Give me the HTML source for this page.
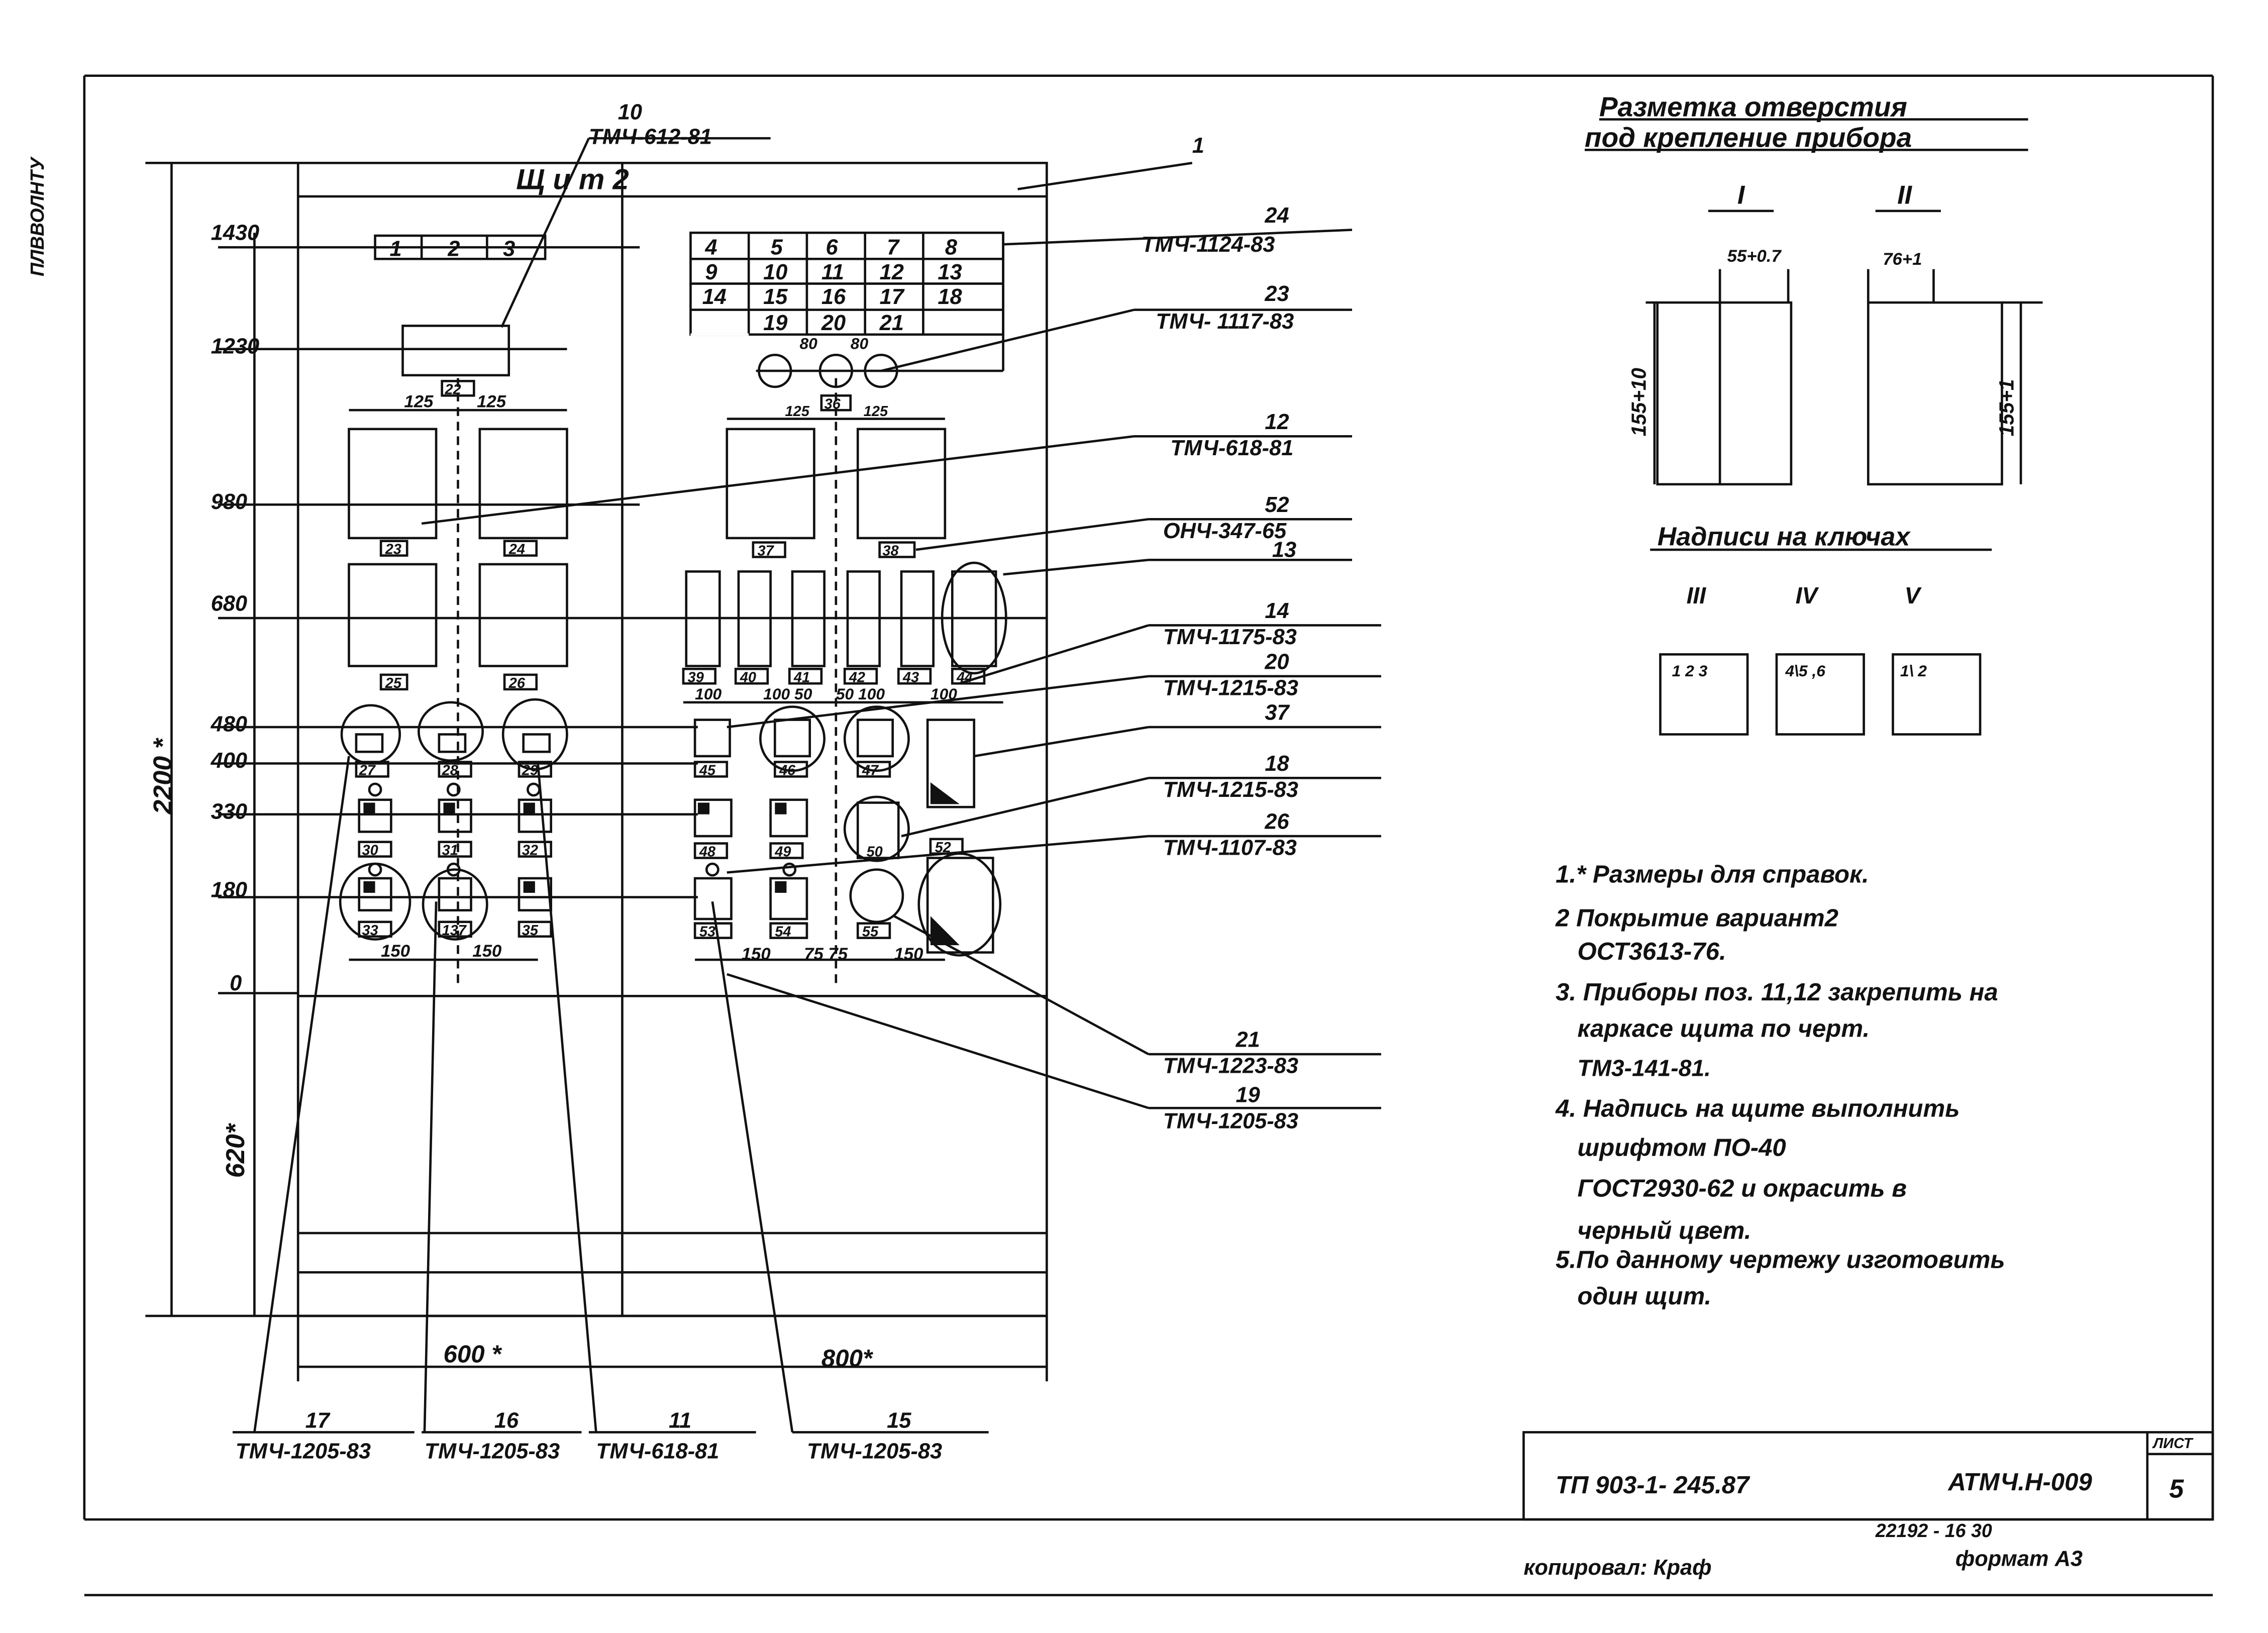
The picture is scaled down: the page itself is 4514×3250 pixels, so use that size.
<!DOCTYPE html>
<html><head><meta charset="utf-8"><style>
html,body{margin:0;padding:0;background:#fff}
svg{display:block}
text{font-family:"Liberation Sans",sans-serif;font-style:italic;font-weight:bold;fill:#111}
</style></head><body>
<svg width="4514" height="3250" viewBox="0 0 1560 1123" xmlns="http://www.w3.org/2000/svg">
<g stroke="#111" stroke-width="1.6" fill="none">
<!-- frame -->
<line x1="58" y1="52" x2="1522" y2="52"/>
<line x1="58" y1="52" x2="58" y2="1045"/>
<line x1="1522" y1="52" x2="1522" y2="1045"/>
<line x1="58" y1="1045" x2="1522" y2="1045"/>
<line x1="58" y1="1097" x2="1522" y2="1097"/>
<!-- title block -->
<rect x="1048" y="985" width="474" height="60"/>
<line x1="1477" y1="985" x2="1477" y2="1045"/>
<line x1="1477" y1="1000" x2="1522" y2="1000"/>
<!-- panel -->
<rect x="205" y="112" width="515" height="793"/>
<line x1="428" y1="112" x2="428" y2="905"/>
<line x1="205" y1="135" x2="720" y2="135"/>
<line x1="205" y1="685" x2="720" y2="685"/>
<line x1="205" y1="848" x2="720" y2="848"/>
<line x1="205" y1="875" x2="720" y2="875"/>
<line x1="100" y1="112" x2="205" y2="112"/>
<line x1="100" y1="905" x2="720" y2="905"/>
<line x1="118" y1="112" x2="118" y2="905"/>
<line x1="175" y1="160" x2="175" y2="905"/>
<!-- level lines -->
<line x1="150" y1="170" x2="440" y2="170"/>
<line x1="150" y1="240" x2="390" y2="240"/>
<line x1="150" y1="347" x2="440" y2="347"/>
<line x1="150" y1="425" x2="720" y2="425"/>
<line x1="150" y1="500" x2="480" y2="500"/>
<line x1="150" y1="525" x2="480" y2="525"/>
<line x1="150" y1="560" x2="480" y2="560"/>
<line x1="150" y1="617" x2="480" y2="617"/>
<line x1="150" y1="683" x2="205" y2="683"/>
<!-- bottom dims -->
<line x1="205" y1="905" x2="205" y2="950"/>
<line x1="720" y1="905" x2="720" y2="950"/>
<line x1="205" y1="940" x2="720" y2="940"/>
<!-- left components -->
<rect x="258" y="162" width="117" height="16"/>
<line x1="290" y1="162" x2="290" y2="178"/><line x1="335" y1="162" x2="335" y2="178"/>
<rect x="277" y="224" width="73" height="34"/>
<rect x="240" y="295" width="60" height="75"/><rect x="330" y="295" width="60" height="75"/>
<rect x="240" y="388" width="60" height="70"/><rect x="330" y="388" width="60" height="70"/>
<line x1="240" y1="282" x2="390" y2="282"/>
<line x1="315" y1="260" x2="315" y2="680" stroke-dasharray="6 4"/>
<rect x="304" y="262" width="22" height="10"/>
<rect x="262" y="372" width="18" height="10"/><rect x="347" y="372" width="22" height="10"/>
<rect x="262" y="464" width="18" height="10"/><rect x="347" y="464" width="22" height="10"/>
<ellipse cx="255" cy="505" rx="20" ry="20"/><ellipse cx="310" cy="503" rx="22" ry="20"/><ellipse cx="368" cy="505" rx="22" ry="24"/>
<rect x="245" y="505" width="18" height="12"/><rect x="302" y="505" width="18" height="12"/><rect x="360" y="505" width="18" height="12"/>
<rect x="245" y="524" width="22" height="10"/><rect x="302" y="524" width="22" height="10"/><rect x="357" y="524" width="22" height="10"/>
<circle cx="258" cy="543" r="4"/><circle cx="312" cy="543" r="4"/><circle cx="367" cy="543" r="4"/>
<rect x="247" y="550" width="22" height="22"/><rect x="302" y="550" width="22" height="22"/><rect x="357" y="550" width="22" height="22"/>
<rect x="247" y="579" width="22" height="10"/><rect x="302" y="579" width="22" height="10"/><rect x="357" y="579" width="22" height="10"/>
<circle cx="258" cy="598" r="4"/><circle cx="312" cy="598" r="4"/>
<ellipse cx="258" cy="620" rx="24" ry="26"/><ellipse cx="313" cy="622" rx="22" ry="24"/>
<rect x="247" y="604" width="22" height="22"/><rect x="302" y="604" width="22" height="22"/><rect x="357" y="604" width="22" height="22"/>
<rect x="247" y="634" width="22" height="10"/><rect x="302" y="634" width="22" height="10"/><rect x="357" y="634" width="22" height="10"/>
<line x1="240" y1="660" x2="370" y2="660"/>
<!-- right components -->
<rect x="475" y="160" width="215" height="70"/>
<line x1="475" y1="178" x2="690" y2="178"/><line x1="475" y1="195" x2="690" y2="195"/><line x1="475" y1="213" x2="690" y2="213"/>
<line x1="515" y1="160" x2="515" y2="230"/><line x1="555" y1="160" x2="555" y2="230"/><line x1="595" y1="160" x2="595" y2="230"/><line x1="635" y1="160" x2="635" y2="230"/>
<line x1="475" y1="230" x2="515" y2="230" stroke="#fff"/>
<line x1="690" y1="160" x2="690" y2="255"/>
<circle cx="533" cy="255" r="11"/><circle cx="575" cy="255" r="11"/><circle cx="606" cy="255" r="11"/>
<line x1="520" y1="255" x2="690" y2="255"/>
<rect x="565" y="272" width="20" height="10"/>
<line x1="500" y1="288" x2="650" y2="288"/>
<rect x="500" y="295" width="60" height="75"/><rect x="590" y="295" width="60" height="75"/>
<line x1="575" y1="260" x2="575" y2="680" stroke-dasharray="6 4"/>
<rect x="518" y="373" width="22" height="10"/><rect x="605" y="373" width="24" height="10"/>
<rect x="472" y="393" width="23" height="65"/><rect x="508" y="393" width="22" height="65"/><rect x="545" y="393" width="22" height="65"/><rect x="583" y="393" width="22" height="65"/><rect x="620" y="393" width="22" height="65"/>
<ellipse cx="670" cy="425" rx="22" ry="38"/><rect x="655" y="393" width="30" height="65"/>
<rect x="470" y="460" width="22" height="10"/><rect x="506" y="460" width="22" height="10"/><rect x="543" y="460" width="22" height="10"/><rect x="581" y="460" width="22" height="10"/><rect x="618" y="460" width="22" height="10"/><rect x="655" y="460" width="22" height="10"/>
<line x1="470" y1="483" x2="690" y2="483"/>
<rect x="478" y="495" width="24" height="25"/><ellipse cx="545" cy="508" rx="22" ry="22"/><ellipse cx="603" cy="508" rx="22" ry="22"/>
<rect x="533" y="495" width="24" height="25"/><rect x="590" y="495" width="24" height="25"/>
<rect x="638" y="495" width="32" height="60"/>
<rect x="478" y="524" width="22" height="10"/><rect x="533" y="524" width="22" height="10"/><rect x="590" y="524" width="22" height="10"/>
<ellipse cx="603" cy="570" rx="22" ry="22"/><rect x="590" y="552" width="28" height="38"/>
<rect x="478" y="550" width="25" height="25"/><rect x="530" y="550" width="25" height="25"/>
<rect x="478" y="580" width="22" height="10"/><rect x="530" y="580" width="22" height="10"/>
<rect x="640" y="577" width="22" height="10"/>
<circle cx="490" cy="598" r="4"/><circle cx="543" cy="598" r="4"/>
<rect x="478" y="604" width="25" height="28"/><rect x="530" y="604" width="25" height="28"/>
<circle cx="603" cy="616" r="18"/>
<ellipse cx="660" cy="622" rx="28" ry="35"/><rect x="638" y="590" width="45" height="65"/>
<rect x="478" y="635" width="25" height="10"/><rect x="530" y="635" width="25" height="10"/><rect x="590" y="635" width="22" height="10"/>
<line x1="478" y1="660" x2="650" y2="660"/>
<!-- leaders right -->
<line x1="700" y1="130" x2="820" y2="112"/>
<line x1="690" y1="168" x2="930" y2="158"/>
<line x1="606" y1="255" x2="780" y2="213"/><line x1="780" y1="213" x2="930" y2="213"/>
<line x1="290" y1="360" x2="780" y2="300"/><line x1="780" y1="300" x2="930" y2="300"/>
<line x1="630" y1="378" x2="790" y2="357"/><line x1="790" y1="357" x2="930" y2="357"/>
<line x1="690" y1="395" x2="790" y2="385"/><line x1="790" y1="385" x2="930" y2="385"/>
<line x1="660" y1="470" x2="790" y2="430"/><line x1="790" y1="430" x2="950" y2="430"/>
<line x1="500" y1="500" x2="790" y2="465"/><line x1="790" y1="465" x2="950" y2="465"/>
<line x1="670" y1="520" x2="790" y2="500"/><line x1="790" y1="500" x2="950" y2="500"/>
<line x1="620" y1="575" x2="790" y2="535"/><line x1="790" y1="535" x2="950" y2="535"/>
<line x1="500" y1="600" x2="790" y2="575"/><line x1="790" y1="575" x2="950" y2="575"/>
<line x1="615" y1="630" x2="790" y2="725"/><line x1="790" y1="725" x2="950" y2="725"/>
<line x1="500" y1="670" x2="790" y2="762"/><line x1="790" y1="762" x2="950" y2="762"/>
<line x1="405" y1="95" x2="530" y2="95"/><line x1="405" y1="95" x2="345" y2="225"/>
<!-- leaders bottom -->
<line x1="240" y1="520" x2="175" y2="985"/><line x1="160" y1="985" x2="285" y2="985"/>
<line x1="300" y1="620" x2="292" y2="985"/><line x1="290" y1="985" x2="400" y2="985"/>
<line x1="370" y1="525" x2="410" y2="985"/><line x1="405" y1="985" x2="520" y2="985"/>
<line x1="490" y1="620" x2="545" y2="985"/><line x1="545" y1="985" x2="680" y2="985"/>
<!-- right side -->
<line x1="1100" y1="82" x2="1395" y2="82"/><line x1="1090" y1="103" x2="1395" y2="103"/>
<rect x="1140" y="208" width="92" height="125"/><rect x="1285" y="208" width="92" height="125"/>
<line x1="1183" y1="185" x2="1183" y2="333"/><line x1="1230" y1="185" x2="1230" y2="208"/>
<line x1="1285" y1="185" x2="1285" y2="208"/><line x1="1330" y1="185" x2="1330" y2="208"/>
<line x1="1132" y1="208" x2="1140" y2="208"/><line x1="1377" y1="208" x2="1405" y2="208"/>
<line x1="1138" y1="208" x2="1138" y2="333"/><line x1="1390" y1="208" x2="1390" y2="333"/>
<line x1="1135" y1="378" x2="1370" y2="378"/>
<rect x="1142" y="450" width="60" height="55"/><rect x="1222" y="450" width="60" height="55"/><rect x="1302" y="450" width="60" height="55"/>
<line x1="1175" y1="145" x2="1220" y2="145"/><line x1="1290" y1="145" x2="1335" y2="145"/>
</g>
<g fill="#111">
<rect x="305" y="552" width="8" height="8"/><rect x="250" y="552" width="8" height="8"/><rect x="360" y="552" width="8" height="8"/>
<rect x="250" y="606" width="8" height="8"/><rect x="360" y="606" width="8" height="8"/>
<rect x="480" y="552" width="8" height="8"/><rect x="533" y="552" width="8" height="8"/><rect x="533" y="606" width="8" height="8"/>
<polygon points="640,650 660,650 640,630"/><polygon points="640,553 660,553 640,538"/>
</g>
<g font-size="15">
<text x="30" y="190" transform="rotate(-90 30 190)" font-size="13">ПЛВВОЛНТУ</text>
<text x="355" y="130" font-size="20">Щ   и   т 2</text>
<text x="425" y="82">10</text><text x="405" y="99">ТМЧ-612-81</text>
<text x="820" y="105">1</text>
<text x="145" y="165">1430</text><text x="145" y="243">1230</text><text x="145" y="350">980</text><text x="145" y="420">680</text>
<text x="145" y="503">480</text><text x="145" y="528">400</text><text x="145" y="563">330</text><text x="145" y="617">180</text><text x="158" y="681">0</text>
<text x="118" y="560" transform="rotate(-90 118 560)" font-size="18">2200 *</text>
<text x="168" y="810" transform="rotate(-90 168 810)" font-size="18">620*</text>
<text x="305" y="937" font-size="17">600 *</text><text x="565" y="940" font-size="17">800*</text>
<text x="268" y="176">1</text><text x="308" y="176">2</text><text x="346" y="176">3</text>
<text x="278" y="280" font-size="12">125</text><text x="328" y="280" font-size="12">125</text>
<text x="306" y="271" font-size="10">22</text>
<text x="265" y="381" font-size="10">23</text><text x="350" y="381" font-size="10">24</text>
<text x="265" y="473" font-size="10">25</text><text x="350" y="473" font-size="10">26</text>
<text x="247" y="533" font-size="10">27</text><text x="304" y="533" font-size="10">28</text><text x="359" y="533" font-size="10">29</text>
<text x="249" y="588" font-size="10">30</text><text x="304" y="588" font-size="10">31</text><text x="359" y="588" font-size="10">32</text>
<text x="249" y="643" font-size="10">33</text><text x="304" y="643" font-size="10">137</text><text x="359" y="643" font-size="10">35</text>
<text x="262" y="658" font-size="12">150</text><text x="325" y="658" font-size="12">150</text>
<text x="485" y="175">4</text><text x="530" y="175">5</text><text x="568" y="175">6</text><text x="610" y="175">7</text><text x="650" y="175">8</text>
<text x="485" y="192">9</text><text x="525" y="192">10</text><text x="565" y="192">11</text><text x="605" y="192">12</text><text x="645" y="192">13</text>
<text x="483" y="209">14</text><text x="525" y="209">15</text><text x="565" y="209">16</text><text x="605" y="209">17</text><text x="645" y="209">18</text>
<text x="525" y="227">19</text><text x="565" y="227">20</text><text x="605" y="227">21</text>
<text x="550" y="240" font-size="11">80</text><text x="585" y="240" font-size="11">80</text>
<text x="567" y="281" font-size="10">36</text>
<text x="540" y="286" font-size="10">125</text><text x="594" y="286" font-size="10">125</text>
<text x="521" y="382" font-size="10">37</text><text x="607" y="382" font-size="10">38</text>
<text x="473" y="469" font-size="10">39</text><text x="509" y="469" font-size="10">40</text><text x="546" y="469" font-size="10">41</text><text x="584" y="469" font-size="10">42</text><text x="621" y="469" font-size="10">43</text><text x="658" y="469" font-size="10">44</text>
<text x="478" y="481" font-size="11">100</text><text x="525" y="481" font-size="11">100 50</text><text x="575" y="481" font-size="11">50 100</text><text x="640" y="481" font-size="11">100</text>
<text x="481" y="533" font-size="10">45</text><text x="536" y="533" font-size="10">46</text><text x="593" y="533" font-size="10">47</text>
<text x="481" y="589" font-size="10">48</text><text x="533" y="589" font-size="10">49</text><text x="596" y="589" font-size="10">50</text><text x="643" y="586" font-size="10">52</text>
<text x="481" y="644" font-size="10">53</text><text x="533" y="644" font-size="10">54</text><text x="593" y="644" font-size="10">55</text>
<text x="510" y="660" font-size="12">150</text><text x="553" y="660" font-size="12">75  75</text><text x="615" y="660" font-size="12">150</text>
<text x="870" y="153">24</text><text x="785" y="173">ТМЧ-1124-83</text>
<text x="870" y="207">23</text><text x="795" y="226">ТМЧ- 1117-83</text>
<text x="870" y="295">12</text><text x="805" y="313">ТМЧ-618-81</text>
<text x="870" y="352">52</text><text x="800" y="370">ОНЧ-347-65</text>
<text x="875" y="383">13</text>
<text x="870" y="425">14</text><text x="800" y="443">ТМЧ-1175-83</text>
<text x="870" y="460">20</text><text x="800" y="478">ТМЧ-1215-83</text>
<text x="870" y="495">37</text>
<text x="870" y="530">18</text><text x="800" y="548">ТМЧ-1215-83</text>
<text x="870" y="570">26</text><text x="800" y="588">ТМЧ-1107-83</text>
<text x="850" y="720">21</text><text x="800" y="738">ТМЧ-1223-83</text>
<text x="850" y="758">19</text><text x="800" y="776">ТМЧ-1205-83</text>
<text x="210" y="982">17</text><text x="162" y="1003">ТМЧ-1205-83</text>
<text x="340" y="982">16</text><text x="292" y="1003">ТМЧ-1205-83</text>
<text x="460" y="982">11</text><text x="410" y="1003">ТМЧ-618-81</text>
<text x="610" y="982">15</text><text x="555" y="1003">ТМЧ-1205-83</text>
<text x="1100" y="80" font-size="19">Разметка  отверстия</text>
<text x="1090" y="101" font-size="19">под крепление прибора</text>
<text x="1195" y="140" font-size="18">I</text><text x="1305" y="140" font-size="18">II</text>
<text x="1188" y="180" font-size="12">55+0.7</text><text x="1295" y="182" font-size="12">76+1</text>
<text x="1132" y="300" font-size="14" transform="rotate(-90 1132 300)">155+10</text>
<text x="1385" y="300" font-size="14" transform="rotate(-90 1385 300)">155+1</text>
<text x="1140" y="375" font-size="18">Надписи  на  ключах</text>
<text x="1160" y="415" font-size="16">III</text><text x="1235" y="415" font-size="16">IV</text><text x="1310" y="415" font-size="16">V</text>
<text x="1150" y="465" font-size="11">1  2  3</text><text x="1228" y="465" font-size="11">4\5 ,6</text><text x="1307" y="465" font-size="11">1\ 2</text>
<text x="1070" y="607" font-size="17">1.* Размеры для справок.</text>
<text x="1070" y="637" font-size="17">2 Покрытие вариант2</text>
<text x="1085" y="660" font-size="17">ОСТ3613-76.</text>
<text x="1070" y="688" font-size="17">3. Приборы поз. 11,12 закрепить на</text>
<text x="1085" y="713" font-size="17">каркасе щита  по черт.</text>
<text x="1085" y="740" font-size="16">ТМ3-141-81.</text>
<text x="1070" y="768" font-size="17">4. Надпись на щите выполнить</text>
<text x="1085" y="795" font-size="17">шрифтом ПО-40</text>
<text x="1085" y="823" font-size="17">ГОСТ2930-62 и окрасить в</text>
<text x="1085" y="852" font-size="17">черный цвет.</text>
<text x="1070" y="872" font-size="17">5.По данному чертежу изготовить</text>
<text x="1085" y="897" font-size="17">один щит.</text>
<text x="1070" y="1027" font-size="17">ТП 903-1- 245.87</text>
<text x="1340" y="1025" font-size="17">АТМЧ.Н-009</text>
<text x="1481" y="996" font-size="10">ЛИСТ</text><text x="1492" y="1030" font-size="18">5</text>
<text x="1290" y="1057" font-size="13">22192 - 16  30</text>
<text x="1048" y="1083" font-size="15">копировал: Краф</text>
<text x="1345" y="1077" font-size="15">формат А3</text>
</g>
</svg>
</body></html>
